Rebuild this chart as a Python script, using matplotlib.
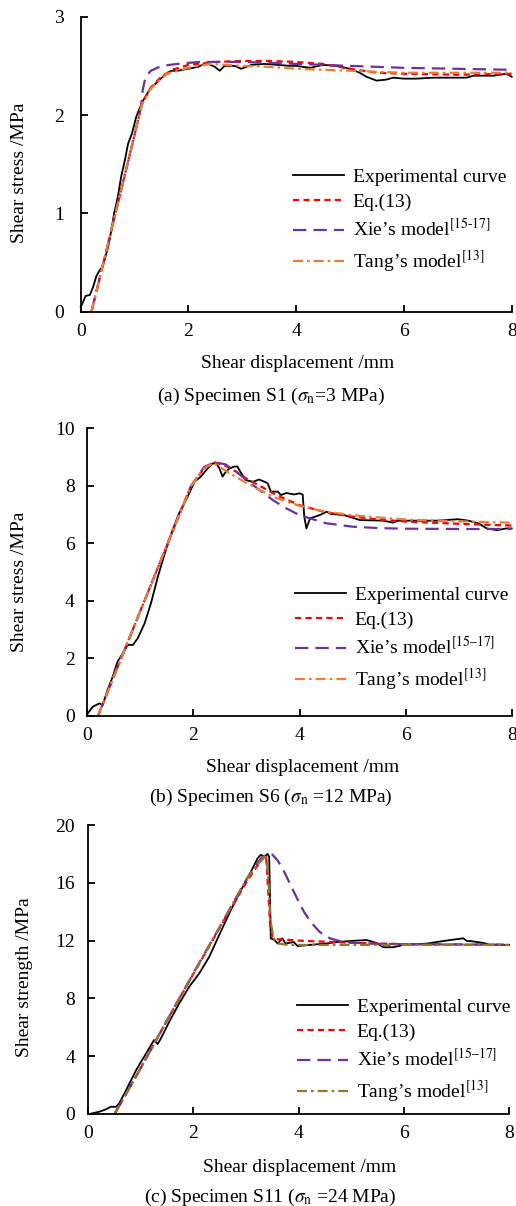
import matplotlib
matplotlib.use("Agg")
import matplotlib.pyplot as plt

plt.rcParams['font.family'] = ['Liberation Serif', 'DejaVu Serif']
plt.rcParams['mathtext.fontset'] = 'stix'
FS = 14

# ---------------- Panel (a) data ----------------
a_exp_x = [0.0, 0.02, 0.09, 0.17, 0.23, 0.29, 0.35, 0.41, 0.51, 0.57, 0.62, 0.69, 0.75, 0.82, 0.88, 0.95,
           1.03, 1.08, 1.16, 1.28, 1.43, 1.56, 1.68, 1.8, 1.99, 2.18, 2.33, 2.49, 2.58, 2.67, 2.86,
           2.98, 3.17, 3.41, 3.66, 3.88, 4.0, 4.26, 4.5, 4.75, 5.0, 5.18, 5.3, 5.49, 5.67, 5.8, 6.0,
           6.23, 6.55, 6.86, 7.16, 7.29, 7.66, 7.9, 8.0]
a_exp_y = [0.05, 0.07, 0.16, 0.17, 0.25, 0.36, 0.42, 0.46, 0.66, 0.83, 1.0, 1.17, 1.37, 1.54, 1.71, 1.81,
           1.98, 2.05, 2.15, 2.26, 2.34, 2.41, 2.45, 2.45, 2.47, 2.49, 2.53, 2.49, 2.45, 2.5, 2.5,
           2.47, 2.51, 2.52, 2.51, 2.50, 2.50, 2.48, 2.51, 2.50, 2.47, 2.43, 2.39, 2.35, 2.36, 2.38, 2.37,
           2.37, 2.38, 2.38, 2.38, 2.40, 2.40, 2.42, 2.39]
a_eq_x = [0.2, 0.4, 0.6, 0.8, 1.0, 1.13, 1.3, 1.5, 1.7, 2.0, 2.5, 3.0, 3.5, 4.0, 4.5, 5.0, 5.5, 6.0, 7.0, 8.0]
a_eq_y = [0.0, 0.45, 0.9, 1.35, 1.8, 2.1, 2.28, 2.39, 2.46, 2.51, 2.54, 2.55, 2.55, 2.54, 2.52, 2.47, 2.43, 2.42, 2.41, 2.42]
a_xie_x = [0.2, 0.6, 1.0, 1.12, 1.15, 1.2, 1.3, 1.5, 1.8, 2.2, 3.0, 4.0, 5.0, 6.0, 7.0, 8.0]
a_xie_y = [0.0, 0.9, 1.8, 2.08, 2.25, 2.38, 2.45, 2.5, 2.52, 2.54, 2.54, 2.52, 2.50, 2.48, 2.47, 2.46]
a_tang_x = [0.2, 0.6, 1.0, 1.13, 1.3, 1.6, 2.0, 2.4, 3.0, 3.5, 4.0, 4.5, 5.0, 5.5, 6.0, 7.0, 8.0]
a_tang_y = [0.0, 0.9, 1.8, 2.1, 2.27, 2.42, 2.48, 2.52, 2.5, 2.49, 2.47, 2.46, 2.45, 2.44, 2.43, 2.43, 2.43]

# ---------------- Panel (b) data ----------------
b_exp_x = [0.0, 0.01, 0.1, 0.23, 0.29, 0.38, 0.48, 0.57, 0.67, 0.76, 0.86, 0.95, 1.08, 1.2, 1.33, 1.48,
           1.61, 1.73, 1.89, 2.02, 2.14, 2.27, 2.36, 2.43, 2.49, 2.55, 2.61, 2.68, 2.77, 2.83, 2.9,
           2.99, 3.12, 3.24, 3.33, 3.40, 3.46, 3.59, 3.65, 3.75, 3.9, 4.0, 4.06, 4.09, 4.13, 4.2,
           4.39, 4.51, 4.6, 4.83, 5.14, 5.58, 5.77, 5.85, 6.21, 6.58, 6.99, 7.18, 7.37, 7.53, 7.72, 7.9, 8.0]
b_exp_y = [0.05, 0.09, 0.32, 0.44, 0.38, 0.9, 1.37, 1.89, 2.18, 2.47, 2.47, 2.7, 3.22, 3.92, 4.84, 5.77,
           6.47, 7.05, 7.62, 8.14, 8.32, 8.61, 8.78, 8.78, 8.61, 8.32, 8.49, 8.6, 8.67, 8.67, 8.44,
           8.2, 8.14, 8.22, 8.15, 8.09, 7.8, 7.8, 7.68, 7.75, 7.7, 7.74, 7.7, 6.93, 6.52, 6.87,
           6.99, 7.1, 7.02, 6.99, 6.81, 6.79, 6.72, 6.79, 6.79, 6.79, 6.84, 6.79, 6.7, 6.52, 6.46, 6.52, 6.52]
b_eq_x = [0.2, 0.6, 1.0, 1.5, 1.95, 2.2, 2.4, 2.6, 2.8, 3.0, 3.3, 3.6, 4.0, 4.5, 5.0, 5.5, 6.0, 7.0, 8.0]
b_eq_y = [0.0, 1.83, 3.65, 5.93, 7.98, 8.6, 8.82, 8.7, 8.5, 8.25, 7.95, 7.65, 7.33, 7.08, 6.93, 6.83, 6.76, 6.68, 6.62]
b_xie_x = [0.2, 0.6, 1.0, 1.5, 1.95, 2.2, 2.4, 2.6, 2.8, 3.0, 3.25, 3.5, 3.75, 4.0, 4.5, 5.0, 5.5, 6.0, 7.0, 8.0]
b_xie_y = [0.0, 1.83, 3.65, 5.93, 7.98, 8.65, 8.82, 8.75, 8.5, 8.2, 7.85, 7.5, 7.22, 6.98, 6.7, 6.58, 6.53, 6.51, 6.5, 6.5]
b_tang_x = [0.2, 0.6, 1.0, 1.5, 1.95, 2.2, 2.38, 2.5, 2.7, 3.0, 3.5, 4.0, 4.5, 5.0, 5.5, 6.0, 7.0, 8.0]
b_tang_y = [0.0, 1.83, 3.65, 5.93, 7.98, 8.6, 8.8, 8.65, 8.42, 8.1, 7.62, 7.3, 7.1, 6.98, 6.9, 6.83, 6.77, 6.72]

# ---------------- Panel (c) data ----------------
c_exp_x = [0.02, 0.21, 0.34, 0.43, 0.53, 0.59, 0.72, 0.91, 1.1, 1.25, 1.32, 1.38, 1.54, 1.73, 1.92,
           2.11, 2.3, 2.49, 2.68, 2.87, 3.06, 3.22, 3.28, 3.35, 3.41, 3.44, 3.47, 3.54, 3.6, 3.69,
           3.75, 3.91, 3.98, 4.21, 4.53, 4.72, 5.1, 5.29, 5.48, 5.61, 5.8, 5.99, 6.43, 6.75, 7.13,
           7.2, 7.26, 7.51, 7.64, 8.0]
c_exp_y = [0.0, 0.16, 0.33, 0.5, 0.5, 0.74, 1.66, 3.04, 4.2, 5.12, 4.84, 5.23, 6.39, 7.66, 8.81,
           9.73, 10.88, 12.39, 13.89, 15.27, 16.54, 17.7, 17.93, 17.82, 18.0, 17.8, 12.16, 12.04, 11.8, 12.16,
           11.8, 11.9, 11.62, 11.7, 11.8, 11.9, 12.0, 12.04, 11.84, 11.54, 11.54, 11.7, 11.79, 11.97, 12.16,
           11.97, 11.97, 11.84, 11.7, 11.7]
c_eq_x = [0.5, 1.0, 1.5, 2.0, 2.5, 3.0, 3.2, 3.3, 3.38, 3.42, 3.46, 3.5, 3.6, 4.0, 5.0, 6.0, 8.0]
c_eq_y = [0.0, 3.2, 6.5, 9.7, 12.9, 16.0, 17.1, 17.6, 17.9, 15.5, 13.0, 12.3, 12.1, 12.0, 11.85, 11.75, 11.7]
c_xie_x = [0.5, 1.0, 1.5, 2.0, 2.5, 3.0, 3.2, 3.3, 3.4, 3.5, 3.6, 3.7, 3.8, 3.9, 4.0, 4.1, 4.2, 4.3,
           4.4, 4.5, 4.6, 4.8, 5.0, 5.5, 6.0, 8.0]
c_xie_y = [0.0, 3.2, 6.5, 9.75, 12.95, 16.2, 17.3, 17.75, 18.0, 17.95, 17.55, 16.95, 16.2, 15.45, 14.7,
           14.0, 13.45, 13.0, 12.6, 12.35, 12.15, 11.95, 11.85, 11.78, 11.75, 11.72]
c_tang_x = [0.5, 1.0, 1.5, 2.0, 2.5, 3.0, 3.38, 3.43, 3.46, 3.52, 3.6, 3.8, 8.0]
c_tang_y = [0.0, 3.2, 6.5, 9.75, 12.95, 16.2, 18.0, 16.0, 13.5, 12.2, 11.8, 11.7, 11.7]

labels_a = ["Experimental curve", "Eq.(13)", r"Xie’s model$^{\text{[15-17]}}$", r"Tang’s model$^{\mathrm{[13]}}$"]
labels_bc = ["Experimental curve", "Eq.(13)", r"Xie’s model$^{\mathrm{[15}\endash\mathrm{17]}}$", r"Tang’s model$^{\mathrm{[13]}}$"]

W, H = 516, 1206
fig = plt.figure(figsize=(W / 100, H / 100), dpi=100)


def add_ax(l, r, t, b):
    return fig.add_axes([l / W, 1 - b / H, (r - l) / W, (b - t) / H])


def style(ax, ylim, yticks, ylabel, ypad, ylab_x, ylab_y, xlab_x, xlab_y):
    ax.set_xlim(0, 8)
    ax.set_ylim(*ylim)
    ax.set_xticks([0, 2, 4, 6, 8])
    ax.set_yticks(yticks)
    for s in ['top', 'right']:
        ax.spines[s].set_visible(False)
    for s in ['left', 'bottom']:
        ax.spines[s].set_linewidth(1.3)
    ax.tick_params(direction='in', length=5, width=1.3, labelsize=FS)
    ax.tick_params(axis='x', pad=8)
    ax.tick_params(axis='y', pad=ypad)
    ax.set_ylabel(ylabel, fontsize=FS, va='center')
    ax.yaxis.set_label_coords(ylab_x / W, 1 - ylab_y / H, transform=fig.transFigure)
    ax.set_xlabel("Shear displacement /mm", fontsize=FS, va='center')
    ax.xaxis.set_label_coords(xlab_x / W, 1 - xlab_y / H, transform=fig.transFigure)


def plot_panel(ax, ex, ey, qx, qy, xx, xy, tx, ty, tang_color, labels, leg_xy):
    l1, = ax.plot(ex, ey, color='black', lw=1.3, clip_on=False)
    l2, = ax.plot(qx, qy, color='#FF0000', lw=1.6, linestyle=(0, (2.8, 1.9)), clip_on=False)
    l3, = ax.plot(xx, xy, color='#7030A0', lw=1.6, linestyle=(0, (6.0, 3.2)), clip_on=False)
    l4, = ax.plot(tx, ty, color=tang_color, lw=1.6, linestyle=(0, (4.5, 1.8, 1.2, 1.8)), clip_on=False)
    ax.legend([l1, l2, l3, l4], labels, loc='upper left',
              bbox_to_anchor=(leg_xy[0] / W, 1 - leg_xy[1] / H), bbox_transform=fig.transFigure,
              frameon=False, fontsize=FS, borderpad=0, borderaxespad=0,
              handlelength=2.63, handletextpad=0.45, labelspacing=0.39)


# Panel (a)
axa = add_ax(80.7, 511.7, 16.7, 311.7)
plot_panel(axa, a_exp_x, a_exp_y, a_eq_x, a_eq_y, a_xie_x, a_xie_y, a_tang_x, a_tang_y,
           '#ED7D31', labels_a, (293, 168))
style(axa, (0, 3), [0, 1, 2, 3], "Shear stress /MPa", 12, 19.5, 173, 298, 363)
fig.text(271 / W, 1 - 396 / H, r"(a) Specimen S1 ($\sigma_\mathrm{n}$=3 MPa)", ha='center', va='center', fontsize=FS)

# Panel (b)
axb = add_ax(87.3, 511.7, 428.3, 716)
plot_panel(axb, b_exp_x, b_exp_y, b_eq_x, b_eq_y, b_xie_x, b_xie_y, b_tang_x, b_tang_y,
           '#ED7D31', labels_bc, (295, 586))
style(axb, (0, 10), [0, 2, 4, 6, 8, 10], "Shear stress /MPa", 9, 19.5, 582, 303, 768)
fig.text(271 / W, 1 - 797 / H, r"(b) Specimen S6 ($\sigma_\mathrm{n}$ =12 MPa)", ha='center', va='center', fontsize=FS)

# Panel (c)
axc = add_ax(88.3, 509, 825, 1114)
plot_panel(axc, c_exp_x, c_exp_y, c_eq_x, c_eq_y, c_xie_x, c_xie_y, c_tang_x, c_tang_y,
           '#957628', labels_bc, (297, 998))
style(axc, (0, 20), [0, 4, 8, 12, 16, 20], "Shear strength /MPa", 9.5, 24.5, 977, 300, 1167)
fig.text(270 / W, 1 - 1197 / H, r"(c) Specimen S11 ($\sigma_\mathrm{n}$ =24 MPa)", ha='center', va='center', fontsize=FS)

fig.savefig("out.png", dpi=100)
